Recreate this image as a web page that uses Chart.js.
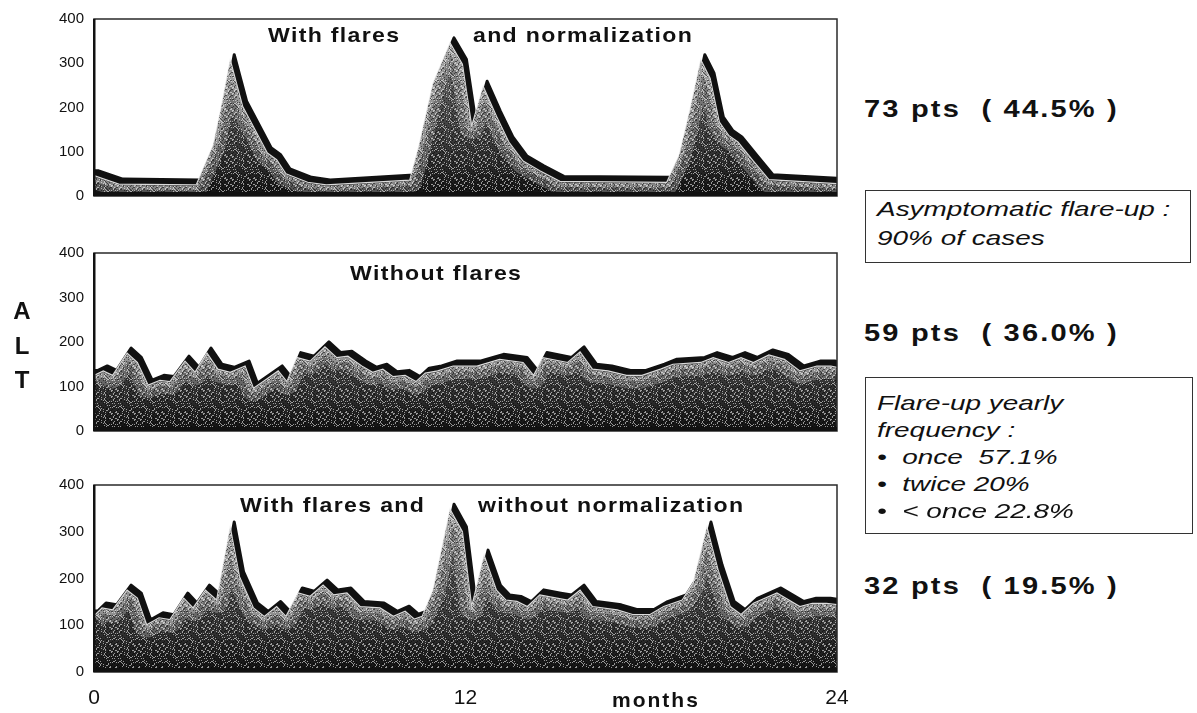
<!DOCTYPE html>
<html>
<head>
<meta charset="utf-8">
<script src="https://cdn.jsdelivr.net/npm/chart.js@4.4.1/dist/chart.umd.min.js"></script>
<style>
  body { margin: 0; background: #fff; }
  #page { position: relative; width: 1197px; height: 713px; overflow: hidden;
          font-family: "Liberation Sans", Arial, sans-serif; color: #111; }
  canvas { position: absolute; left: 0; }
  .txt { position: absolute; white-space: pre; line-height: 1; transform-origin: 0 0; }
  .title { font-size: 21px; font-weight: bold; letter-spacing: 1.2px; transform: scaleX(1.1); }
  .pts { font-size: 24px; font-weight: bold; letter-spacing: 1.8px; transform: scaleX(1.21); }
  .note { font-size: 21px; font-style: italic; transform: scaleX(1.33); }
  .box { position: absolute; border: 1.5px solid #333; }
  .alt { font-size: 24px; font-weight: bold; width: 24px; text-align: center; }
</style>
</head>
<body>
<div id="page">
  <canvas id="panel1" width="850" height="215" style="top:0px"></canvas>
  <canvas id="panel2" width="850" height="216" style="top:234px"></canvas>
  <canvas id="panel3" width="850" height="247" style="top:466px"></canvas>

  <div class="txt title" style="left:268px; top:24px">With flares</div>
  <div class="txt title" style="left:473px; top:24px">and normalization</div>
  <div class="txt title" style="left:350px; top:262px">Without flares</div>
  <div class="txt title" style="left:240px; top:494px">With flares and</div>
  <div class="txt title" style="left:478px; top:494px">without normalization</div>

  <div class="txt alt" style="left:10px; top:299px">A</div>
  <div class="txt alt" style="left:10px; top:334px">L</div>
  <div class="txt alt" style="left:10px; top:368px">T</div>

  <div class="txt" style="left:612px; top:689px; font-size:21px; font-weight:bold; letter-spacing:2px">months</div>

  <div class="txt pts" style="left:864px; top:97px">73 pts  ( 44.5% )</div>
  <div class="txt pts" style="left:864px; top:321px">59 pts  ( 36.0% )</div>
  <div class="txt pts" style="left:864px; top:574px">32 pts  ( 19.5% )</div>

  <div class="box" style="left:865px; top:190px; width:324px; height:71px"></div>
  <div class="txt note" style="left:877px; top:198px">Asymptomatic flare-up :</div>
  <div class="txt note" style="left:877px; top:227px">90% of cases</div>

  <div class="box" style="left:865px; top:377px; width:326px; height:155px"></div>
  <div class="txt note" style="left:877px; top:392px">Flare-up yearly</div>
  <div class="txt note" style="left:877px; top:419px">frequency :</div>
  <div class="txt note" style="left:877px; top:446px">•  once  57.1%</div>
  <div class="txt note" style="left:877px; top:473px">•  twice 20%</div>
  <div class="txt note" style="left:877px; top:500px">•  &lt; once 22.8%</div>
</div>

<script>
// ALT over 24 months, three patient groups
const months1 = [0, 0.8, 3.3, 3.85, 4.1, 4.4, 4.8, 5.6, 5.9, 6.2, 6.9, 7.5, 10.2, 10.5, 10.95, 11.5, 11.9, 12.2, 12.57, 13.0,
  13.4, 13.86, 14.4, 15.05, 18.5, 18.9, 19.25, 19.6, 19.9, 20.2, 20.5, 20.8, 21.3, 21.8, 24];
const alt1 = [46, 27, 25, 115, 198, 308, 203, 97, 82, 50, 31, 25, 36, 115, 255, 346, 298, 158, 248, 180,
  122, 79, 57, 33, 31, 92, 195, 308, 266, 167, 137, 122, 79, 37, 28];

const months2 = [0, 0.3, 0.6, 1.07, 1.4, 1.75, 2.13, 2.45, 2.94, 3.26, 3.65, 4.0, 4.4, 4.88, 5.15, 5.58, 5.95, 6.23, 6.55, 6.98,
  7.46, 7.84, 8.2, 8.65, 9.0, 9.33, 9.66, 10.05, 10.4, 10.7, 11.1, 11.6, 12.37, 13.1, 13.86, 14.2, 14.5, 15.3, 15.7, 16.1,
  16.6, 17.2, 17.7, 18.3, 18.7, 19.6, 20.0, 20.5, 20.9, 21.3, 21.8, 22.3, 22.8, 23.35, 23.8, 24];
const alt2 = [125, 135, 125, 175, 154, 103, 114, 111, 157, 132, 175, 139, 132, 146, 96, 117, 135, 111, 165, 157,
  189, 165, 168, 146, 132, 139, 122, 125, 111, 130, 135, 146, 146, 161, 154, 125, 165, 154, 178, 139,
  135, 125, 125, 139, 150, 154, 165, 154, 165, 154, 171, 161, 135, 146, 146, 143];

const months3 = [0, 0.26, 0.6, 1.07, 1.4, 1.7, 2.1, 2.45, 2.9, 3.2, 3.6, 3.96, 4.4, 4.7, 5.15, 5.5, 5.9, 6.2, 6.6, 6.98,
  7.4, 7.74, 8.17, 8.6, 9.24, 9.67, 10.05, 10.35, 10.6, 10.95, 11.5, 11.9, 12.2, 12.6, 13.0, 13.3, 13.66, 14.0, 14.4, 14.95,
  15.3, 15.7, 16.1, 16.9, 17.4, 17.96, 18.4, 19.0, 19.35, 19.8, 20.16, 20.55, 20.9, 21.3, 22.06, 22.8, 23.2, 23.66, 24];
const alt3 = [120, 137, 133, 175, 158, 101, 116, 112, 158, 137, 175, 154, 310, 204, 137, 119, 140, 119, 169, 162,
  186, 165, 169, 140, 137, 119, 130, 113, 119, 175, 348, 300, 140, 250, 175, 154, 151, 140, 165, 158,
  154, 175, 140, 133, 123, 123, 140, 154, 190, 310, 218, 140, 123, 147, 169, 140, 147, 147, 144];

const yTicks = [0, 100, 200, 300, 400];
const xTicks = [0, 12, 24];

const DX = 4, DY = 5;

// small halftone texture, built once
function makeSpeckle() {
  const c = document.createElement("canvas");
  c.width = 23; c.height = 23;
  const g = c.getContext("2d");
  for (let y = 0; y < 23; y++) {
    for (let x = 0; x < 23; x++) {
      const h = (x * 73 + y * 151 + x * y * 7) % 17;
      if (h === 0 || h === 5 || h === 14) {
        g.fillStyle = "rgba(255,255,255,0.55)";
        g.fillRect(x, y, 1, 1);
      } else if (h === 3 || h === 9 || h === 12) {
        g.fillStyle = "rgba(0,0,0,0.5)";
        g.fillRect(x, y, 1, 1);
      }
    }
  }
  return c;
}
const speckle = makeSpeckle();

function topLine(ctx, pts, dx, dy) {
  ctx.moveTo(pts[0].x, pts[0].y - dy);
  pts.forEach((p) => ctx.lineTo(p.x + dx, p.y - dy));
}

function areaPath(ctx, pts, area, dx, dy) {
  ctx.beginPath();
  ctx.moveTo(pts[0].x, area.bottom);
  ctx.lineTo(pts[0].x, pts[0].y - dy);
  pts.forEach((p) => ctx.lineTo(p.x + dx, p.y - dy));
  ctx.lineTo(pts[pts.length - 1].x + dx, area.bottom);
  ctx.closePath();
}

const depthPlugin = {
  id: "depth",
  beforeDatasetsDraw(chart) {
    const ctx = chart.ctx, area = chart.chartArea;
    const pts = chart.getDatasetMeta(0).data;
    ctx.save();
    ctx.beginPath();
    ctx.rect(area.left, area.top, area.right - area.left, area.bottom - area.top);
    ctx.clip();
    areaPath(ctx, pts, area, DX, DY);
    ctx.fillStyle = "#111";
    ctx.fill();
    ctx.lineJoin = "round";
    ctx.lineWidth = 3;
    ctx.strokeStyle = "#111";
    ctx.stroke();
    ctx.restore();
  },
  afterDatasetsDraw(chart) {
    const ctx = chart.ctx, area = chart.chartArea;
    const pts = chart.getDatasetMeta(0).data;
    ctx.save();
    areaPath(ctx, pts, area, 0, -1);
    ctx.clip();
    // lighter band just under the top edge
    ctx.lineJoin = "round";
    ctx.beginPath();
    topLine(ctx, pts, 0, -1);
    ctx.strokeStyle = "rgba(170,170,170,0.42)";
    ctx.lineWidth = 24;
    ctx.stroke();
    ctx.strokeStyle = "rgba(200,200,200,0.42)";
    ctx.lineWidth = 9;
    ctx.stroke();
    ctx.fillStyle = ctx.createPattern(speckle, "repeat");
    ctx.fillRect(area.left, area.top, area.right - area.left, area.bottom - area.top);
    ctx.restore();
  },
  afterDraw(chart) {
    const ctx = chart.ctx, area = chart.chartArea;
    ctx.save();
    ctx.strokeStyle = "#2a2a2a";
    ctx.lineWidth = 1.5;
    ctx.strokeRect(area.left, area.top, area.right - area.left, area.bottom - area.top);
    ctx.fillStyle = "#111";
    ctx.fillRect(area.left - 1, area.top, 2.5, area.bottom - area.top);
    ctx.fillRect(area.left, area.bottom - 4, area.right - area.left, 4);
    ctx.restore();
  },
};

function grayFill(context) {
  const chart = context.chart;
  const area = chart.chartArea;
  if (!area) return "#444";
  const g = chart.ctx.createLinearGradient(0, area.top, 0, area.bottom);
  g.addColorStop(0, "#7c7c7c");
  g.addColorStop(0.5, "#4c4c4c");
  g.addColorStop(0.8, "#2e2e2e");
  g.addColorStop(1, "#121212");
  return g;
}

function makePanel(id, months, values, showX) {
  const points = months.map((m, i) => ({ x: m, y: values[i] }));
  const xScale = {
    type: "linear",
    min: 0,
    max: 24,
    display: showX,
    grid: { display: false, drawTicks: false },
    border: { display: false },
    afterBuildTicks: (scale) => { scale.ticks = xTicks.map((v) => ({ value: v })); },
    ticks: { color: "#111", padding: 14, maxRotation: 0, font: { family: "Liberation Sans", size: 21 } },
  };
  if (showX) {
    xScale.afterFit = (scale) => {
      scale.height = 41;
      scale.paddingLeft = 0;
      scale.paddingRight = 0;
    };
  }
  new Chart(document.getElementById(id), {
    type: "line",
    data: {
      datasets: [
        {
          data: points,
          borderColor: "rgba(240,240,240,0.9)",
          borderWidth: 1.2,
          backgroundColor: grayFill,
          fill: "origin",
          pointRadius: 0,
          tension: 0,
        },
      ],
    },
    options: {
      responsive: false,
      animation: false,
      layout: { padding: { top: 17, right: 13, bottom: showX ? 0 : 13, left: 0 } },
      plugins: { legend: { display: false }, tooltip: { enabled: false } },
      scales: {
        x: xScale,
        y: {
          min: 0,
          max: 400,
          grid: { display: false, drawTicks: false },
          border: { display: false },
          afterBuildTicks: (scale) => { scale.ticks = yTicks.map((v) => ({ value: v })); },
          afterFit: (scale) => { scale.width = 94; },
          ticks: { color: "#111", padding: 10, font: { family: "Liberation Sans", size: 15 } },
        },
      },
    },
    plugins: [depthPlugin],
  });
}

makePanel("panel1", months1, alt1, false);
makePanel("panel2", months2, alt2, false);
makePanel("panel3", months3, alt3, true);
</script>
</body>
</html>
